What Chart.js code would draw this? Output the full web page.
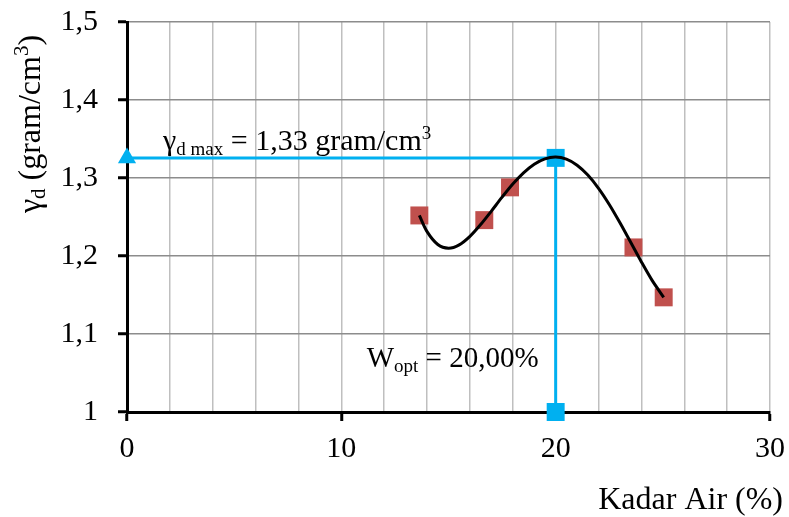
<!DOCTYPE html>
<html>
<head>
<meta charset="utf-8">
<title>Kurva Pemadatan</title>
<script src="https://cdn.jsdelivr.net/npm/chart.js@4.4.1/dist/chart.umd.min.js"></script>
<style>
  html, body { margin: 0; padding: 0; background: #fff; }
  #wrap { width: 789px; height: 517px; }
  canvas { display: block; background: #fff; }
</style>
</head>
<body>
<div id="wrap"><canvas id="compactionChart" width="789" height="517"></canvas></div>
<script>
// Hasil uji pemadatan: kadar air (%) vs berat isi kering (gram/cm3)
const kadarAir   = [13.64, 16.67, 17.87, 23.63, 25.04];
const beratIsi   = [1.252, 1.246, 1.288, 1.211, 1.147];

// Garis trend (polinomial), dibaca tiap 0,5 %
const trendX = [13.64, 14.0, 14.5, 15.0, 15.5, 16.0, 16.5, 17.0, 17.5, 18.0, 18.5, 19.0,
                19.5, 20.0, 20.5, 21.0, 21.5, 22.0, 22.5, 23.0, 23.5, 24.0, 24.5, 25.04];
const trendY = [1.2520, 1.2312, 1.2147, 1.2100, 1.2143, 1.2252, 1.2403, 1.2576, 1.2754, 1.2922,
                1.3066, 1.3177, 1.3246, 1.3269, 1.3241, 1.3164, 1.3038, 1.2868, 1.2661, 1.2426,
                1.2176, 1.1924, 1.1687, 1.1470];

// Titik optimum
const wOpt     = 20.0;
const gammaMax = 1.3258;

const xTicks = [0, 10, 20, 30];
const yTicks = [1, 1.1, 1.2, 1.3, 1.4, 1.5];

const SERIF = '"Liberation Serif", "Times New Roman", serif';
const BLUE  = '#00B0F0';
const RED   = '#C0504D';

const fmt = v => String(Math.round(v * 100) / 100).replace('.', ',');

// draws a run of [text, size, baselineShift] pieces starting at x
function drawRuns(ctx, runs, x, y, align) {
  let total = 0;
  runs.forEach(r => { ctx.font = r[1] + 'px ' + SERIF; total += ctx.measureText(r[0]).width; });
  let cx = align === 'center' ? x - total / 2 : align === 'right' ? x - total : x;
  runs.forEach(r => {
    ctx.font = r[1] + 'px ' + SERIF;
    ctx.fillText(r[0], cx, y + (r[2] || 0));
    cx += ctx.measureText(r[0]).width;
  });
}

const labelPlugin = {
  id: 'labelPlugin',
  afterDraw(chart) {
    const ctx = chart.ctx;
    const xs = chart.scales.x, ys = chart.scales.y;
    ctx.save();
    ctx.fillStyle = '#000';
    ctx.textAlign = 'left';
    ctx.textBaseline = 'alphabetic';

    // γd max annotation above the horizontal guide
    drawRuns(ctx, [
      ['γ', 30], ['d max', 19, 5], [' = ' + fmt(gammaMax) + ' gram/cm', 30], ['3', 19, -11]
    ], xs.left + 36, ys.getPixelForValue(gammaMax) - 8, 'left');

    // Wopt annotation left of the vertical guide
    drawRuns(ctx, [
      ['W', 29], ['opt', 19, 5], [' = ' + wOpt.toFixed(2).replace('.', ',') + '%', 29]
    ], xs.getPixelForValue(wOpt) - 189, 367, 'left');

    // x axis title
    drawRuns(ctx, [['Kadar Air (%)', 32]], 783, 509, 'right');

    // y axis title, rotated
    ctx.translate(40, 124);
    ctx.rotate(-Math.PI / 2);
    drawRuns(ctx, [
      ['γ', 32], ['d', 21, 5], [' (gram/cm', 32], ['3', 21, -12], [')', 32]
    ], 0, 0, 'center');
    ctx.restore();
  }
};

new Chart(document.getElementById('compactionChart'), {
  type: 'scatter',
  data: {
    datasets: [
      {
        label: 'Trend',
        data: trendX.map((x, i) => ({ x, y: trendY[i] })),
        showLine: true,
        borderColor: '#000',
        borderWidth: 3,
        pointRadius: 0,
        tension: 0.3,
        order: 0
      },
      {
        label: 'Data',
        data: kadarAir.map((x, i) => ({ x, y: beratIsi[i] })),
        pointStyle: 'rect',
        pointRadius: 12.7,
        backgroundColor: RED,
        borderWidth: 0,
        order: 1
      },
      {
        label: 'Optimum',
        data: [{ x: 0, y: gammaMax }, { x: wOpt, y: gammaMax }, { x: wOpt, y: 1 }],
        showLine: true,
        borderColor: BLUE,
        borderWidth: 3,
        tension: 0,
        pointStyle: ['triangle', 'rect', 'rect'],
        pointRadius: [10.5, 12.7, 12.7],
        backgroundColor: BLUE,
        pointBorderWidth: 0,
        clip: false,
        order: 2
      }
    ]
  },
  options: {
    responsive: false,
    animation: false,
    layout: { padding: { top: 22, right: 19, left: 0, bottom: 0 } },
    plugins: { legend: { display: false }, tooltip: { enabled: false } },
    scales: {
      x: {
        type: 'linear',
        min: xTicks[0],
        max: xTicks[xTicks.length - 1],
        afterFit: s => {
          s.height = 105;
          s.paddingLeft = 0;
          s.paddingRight = 0;
        },
        ticks: {
          stepSize: 2,
          autoSkip: false,
          maxRotation: 0,
          padding: 10,
          color: '#000',
          font: { family: SERIF, size: 30 },
          callback: v => (xTicks.includes(v) ? String(v) : '')
        },
        grid: {
          color: c => (c.tick && c.tick.value === 0 ? 'rgba(0,0,0,0)' : '#BFBFBF'),
          lineWidth: 1.5,
          tickLength: 9,
          tickWidth: 3,
          tickColor: c => (c.tick && xTicks.includes(c.tick.value) ? '#000' : 'rgba(0,0,0,0)')
        },
        border: { color: '#000', width: 3 }
      },
      y: {
        type: 'linear',
        min: yTicks[0],
        max: yTicks[yTicks.length - 1],
        afterFit: s => {
          s.width = 127;
          s.paddingTop = 0;
          s.paddingBottom = 0;
        },
        ticks: {
          stepSize: 0.1,
          padding: 20,
          color: '#000',
          font: { family: SERIF, size: 30 },
          callback: v => fmt(v)
        },
        grid: {
          color: c => (c.tick && Math.abs(c.tick.value - 1) < 1e-6 ? 'rgba(0,0,0,0)' : '#8C8C8C'),
          lineWidth: 1.5,
          tickLength: 9,
          tickWidth: 3,
          tickColor: '#000'
        },
        border: { color: '#000', width: 3 }
      }
    }
  },
  plugins: [labelPlugin]
});
</script>
</body>
</html>
